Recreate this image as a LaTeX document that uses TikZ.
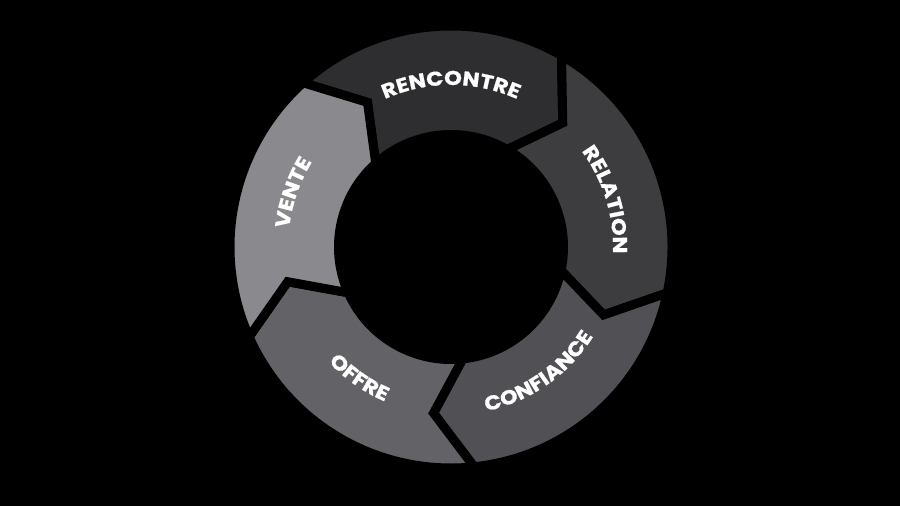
\documentclass[tikz,border=0pt]{standalone}
\usepackage{fontspec}
\setmainfont{Poppins}
\newfontfamily\lblfont{Poppins}[BoldFeatures={FakeStretch=1.13, FakeBold=0.8}]
\usetikzlibrary{decorations.text}
\definecolor{cVente}{RGB}{138,138,142}
\definecolor{cRencontre}{RGB}{46,46,48}
\definecolor{cRelation}{RGB}{61,61,63}
\definecolor{cConfiance}{RGB}{81,81,85}
\definecolor{cOffre}{RGB}{99,99,103}
\newcommand\lblfmt{\color{white}\lblfont\bfseries\fontsize{20}{22}\selectfont}
% ring segment: #1 start angle (upper), #2 colour
\newcommand\ringseg[2]{%
  \path[seg=#2] (#1:221) arc[start angle=#1, end angle={#1-72}, radius=221]
    -- ({#1-84}:167) -- ({#1-72}:112.5)
    arc[start angle={#1-72}, end angle=#1, radius=112.5]
    -- ({#1-12}:167) -- cycle;}
% curved label: #1 angle, #2 baseline radius, #3 direction (1 cw, -1 ccw), #4 text
\newcommand\arclabel[4]{%
  \path[decorate, decoration={text along path, text align=center,
      text={|\lblfmt|#4}}]
    ({#1+#3*40}:#2) arc[start angle={#1+#3*40}, end angle={#1-#3*40}, radius=#2];}
\begin{document}
\begin{tikzpicture}[x=1pt,y=1pt,
  seg/.style={fill=#1, draw=black, line width=9pt, line join=miter}]
\fill[black] (0,0) rectangle (900,506);
\useasboundingbox (0,0) rectangle (900,506);
\begin{scope}[shift={(451,259)}]
  \ringseg{132}{cRencontre}
  \ringseg{60}{cRelation}
  \ringseg{-12}{cConfiance}
  \ringseg{-84}{cOffre}
  \ringseg{204}{cVente}
  \arclabel{90}{162}{1}{RENCONTRE}
  \arclabel{17}{162}{1}{RELATION}
  \arclabel{161}{163}{1}{VENTE}
  \arclabel{-55}{168}{-1}{CONFIANCE}
  \arclabel{235}{168}{-1}{OFFRE}
\end{scope}
\end{tikzpicture}
\end{document}
